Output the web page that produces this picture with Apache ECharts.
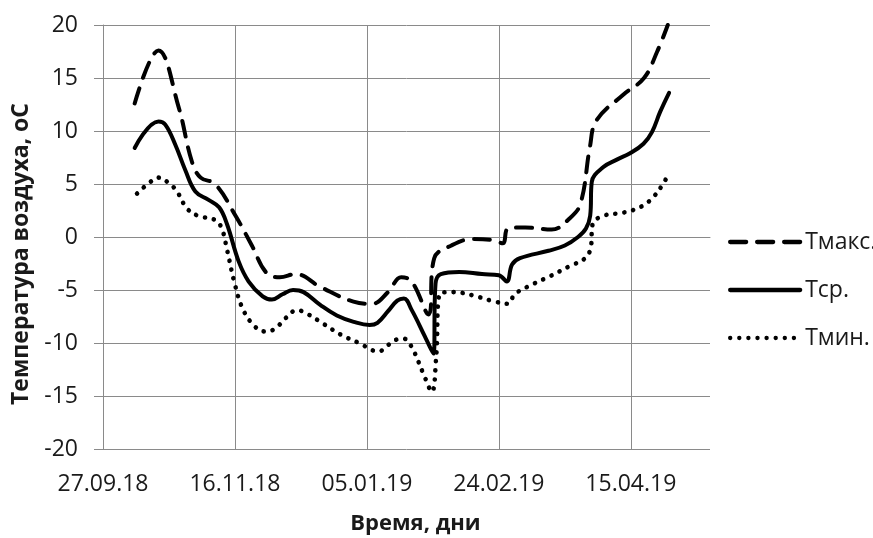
<!DOCTYPE html>
<html>
<head>
<meta charset="utf-8">
<script src="https://cdn.jsdelivr.net/npm/echarts@6/dist/echarts.min.js"></script>
<style>
  html, body { margin: 0; padding: 0; background: #fff; }
  #chart { width: 873px; height: 538px; }
</style>
</head>
<body>
<div id="chart"></div>
<script>
// days counted from 27.09.18
const tickLabels = ['27.09.18', '16.11.18', '05.01.19', '24.02.19', '15.04.19']

const maxDays = [12, 21, 28.6, 33.7, 37, 42.5, 50, 56.4, 62, 67, 73, 82.3, 94.9, 102, 108, 113, 117, 123.3, 125.5, 132, 140, 148, 151.5, 153.5, 160, 170, 177, 181, 184.5, 187, 197, 205, 210, 214]
const maxTemp = [12.6, 17.6, 12.3, 7.1, 5.6, 5.0, 2.1, -0.8, -3.4, -3.8, -3.5, -4.7, -6.1, -6.3, -5.2, -3.8, -4.2, -7.3, -2.0, -0.8, -0.2, -0.3, -0.6, 0.8, 0.9, 0.7, 1.8, 3.2, 8.5, 11.0, 13.4, 15.0, 17.5, 20]

const avgDays = [12, 21, 23.6, 27.4, 31.2, 35, 40, 44, 47, 51.4, 55.2, 60.5, 64, 68, 72, 76, 82.3, 88.6, 95, 101, 104, 108, 111.5, 114, 117, 122, 125.2, 126, 128, 135, 143.6, 150, 153, 155, 158, 168.8, 175, 180, 183, 184.6, 185.2, 189.6, 194.7, 199.7, 204.8, 208, 211.1, 214.5]
const avgTemp = [8.4, 10.9, 10.6, 8.7, 6.3, 4.3, 3.5, 2.8, 1.2, -2.3, -4.2, -5.6, -5.9, -5.4, -5.0, -5.2, -6.4, -7.4, -8.0, -8.3, -8.1, -7.0, -6.0, -5.8, -6.9, -9.4, -11.0, -4.4, -3.5, -3.3, -3.5, -3.6, -4.2, -2.6, -2.0, -1.3, -0.8, 0.0, 0.8, 2.0, 5.2, 6.6, 7.3, 7.9, 8.8, 9.9, 11.8, 13.6]

const minDays = [12.9, 17, 21, 24.9, 28, 31.8, 36, 42.5, 45, 47, 50, 53, 57, 61, 65, 69, 73.5, 77, 83.6, 90, 97, 104.4, 108, 111, 114, 117, 121.4, 124.6, 126.2, 127.8, 133, 140, 147, 153.5, 156, 162.5, 169.4, 176.4, 182.7, 184.8, 185.5, 189.6, 197.2, 204.2, 209, 212.4, 214.3]
const minTemp = [4.1, 5.0, 5.6, 5.1, 4.3, 2.7, 2.0, 1.6, 0.8, -1.2, -4.5, -6.8, -8.3, -8.9, -8.7, -7.7, -6.9, -7.2, -8.2, -9.2, -10.0, -10.8, -10.2, -9.7, -9.6, -10.4, -12.9, -14.6, -11.5, -5.3, -5.2, -5.5, -6.0, -6.3, -5.4, -4.5, -3.7, -2.8, -2.0, -1.0, 1.2, 2.0, 2.3, 2.9, 3.9, 5.1, 5.9]

const font = '"Open Sans", sans-serif'
const gridColor = '#8a8a8a'

function pairs(xs, ys) {
  return xs.map((x, i) => [x, ys[i]])
}

function lineSeries(name, xs, ys, type, width) {
  return {
    name: name,
    type: 'line',
    data: pairs(xs, ys),
    symbol: 'none',
    smooth: 0.4,
    itemStyle: { color: '#000' },
    lineStyle: { color: '#000', width: width, type: type, cap: 'round', join: 'round' }
  }
}

const chart = echarts.init(document.getElementById('chart'))
chart.setOption({
  animation: false,
  backgroundColor: '#fff',
  textStyle: { fontFamily: font },
  grid: { left: 103, right: 163, top: 25, bottom: 89, outerBoundsMode: 'none' },
  legend: {
    orient: 'vertical',
    left: 723,
    top: 225,
    itemWidth: 70,
    itemHeight: 14,
    itemGap: 24,
    data: ['Тмакс.', 'Тср.', 'Тмин.'],
    itemStyle: { opacity: 0, borderWidth: 0 },
    lineStyle: { color: '#000', width: 4.3 },
    textStyle: { fontFamily: font, fontSize: 23, color: '#1a1a1a', lineHeight: 24 }
  },
  xAxis: {
    type: 'value',
    min: 0,
    max: 230,
    interval: 50,
    name: 'Время, дни',
    nameLocation: 'middle',
    nameGap: 64,
    nameMoveOverlap: false,
    nameTextStyle: { fontFamily: font, fontSize: 22, fontWeight: 'bold', color: '#1a1a1a', padding: [0, 0, 0, 18] },
    axisLine: { show: true, lineStyle: { color: gridColor, width: 1 } },
    axisTick: { show: false },
    axisLabel: {
      margin: 24,
      fontSize: 23,
      color: '#1a1a1a',
      fontFamily: font,
      showMaxLabel: false,
      formatter: v => tickLabels[v / 50] || ''
    },
    splitLine: { show: true, showMaxLine: false, lineStyle: { color: gridColor, width: 1 } }
  },
  yAxis: {
    type: 'value',
    min: -20,
    max: 20,
    interval: 5,
    name: 'Температура воздуха, оС',
    nameLocation: 'middle',
    nameGap: 70,
    nameMoveOverlap: false,
    nameRotate: 90,
    nameTextStyle: { fontFamily: font, fontSize: 23, fontWeight: 'bold', color: '#1a1a1a', padding: [0, 34, 0, 0] },
    axisLine: { show: true, lineStyle: { color: gridColor, width: 1 } },
    axisTick: { show: true, length: 9, lineStyle: { color: gridColor, width: 1 } },
    axisLabel: { margin: 25, fontSize: 23, color: '#1a1a1a', fontFamily: font },
    splitLine: { show: true, lineStyle: { color: gridColor, width: 1 } }
  },
  series: [
    lineSeries('Тмакс.', maxDays, maxTemp, [16, 11], 4),
    lineSeries('Тср.', avgDays, avgTemp, 'solid', 4),
    lineSeries('Тмин.', minDays, minTemp, [0.1, 9], 4.6)
  ]
})
</script>
</body>
</html>
